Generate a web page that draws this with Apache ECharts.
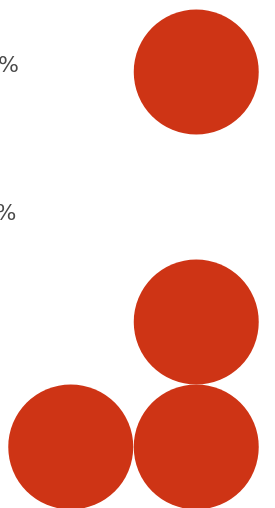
<!DOCTYPE html>
<html>
<head>
<meta charset="utf-8">
<script src="https://cdn.jsdelivr.net/npm/echarts@6/dist/echarts.min.js"></script>
<style>
  html, body { margin: 0; padding: 0; background: #fff; }
  #main { width: 275px; height: 508px; }
</style>
</head>
<body>
<div id="main"></div>
<script>
// 数据
const colValues = [1, 2, 2, 2];
const rowValues = [1, 1, 2, 4];
const tickLabels = ['100%', '50%'];

const points = colValues.map((c, i) => [c, rowValues[i]]);

const myChart = echarts.init(document.getElementById('main'));

const option = {
  animation: false,
  grid: [
    // 圆点所在网格
    { left: 8, top: 9.5, width: 251, height: 500, outerBoundsMode: 'none' },
    // 左侧百分比标签
    { left: 27, top: -7.5, width: 10, height: 296, outerBoundsMode: 'none' }
  ],
  xAxis: [
    { gridIndex: 0, type: 'value', min: 0.5, max: 2.5, show: false },
    { gridIndex: 1, type: 'value', show: false }
  ],
  yAxis: [
    { gridIndex: 0, type: 'value', min: 0.5, max: 4.5, show: false },
    {
      gridIndex: 1,
      type: 'category',
      inverse: true,
      data: tickLabels,
      axisLine: { show: false },
      axisTick: { show: false },
      splitLine: { show: false },
      axisLabel: {
        margin: 8,
        formatter: function (value, index) {
          return index === 0 ? '{a|' + value + '}' : '{b|' + value + '}';
        },
        rich: {
          a: { fontSize: 22, color: '#4a4a4a', fontFamily: 'DejaVu Sans' },
          b: { fontSize: 22, color: '#4a4a4a', fontFamily: 'DejaVu Sans', padding: [0, 2.5, 0, 0] }
        }
      }
    }
  ],
  series: [
    {
      type: 'scatter',
      xAxisIndex: 0,
      yAxisIndex: 0,
      clip: false,
      symbolSize: 125,
      itemStyle: { color: '#ce3415', opacity: 1 },
      emphasis: { disabled: true },
      data: points
    }
  ]
};

myChart.setOption(option);
</script>
</body>
</html>
